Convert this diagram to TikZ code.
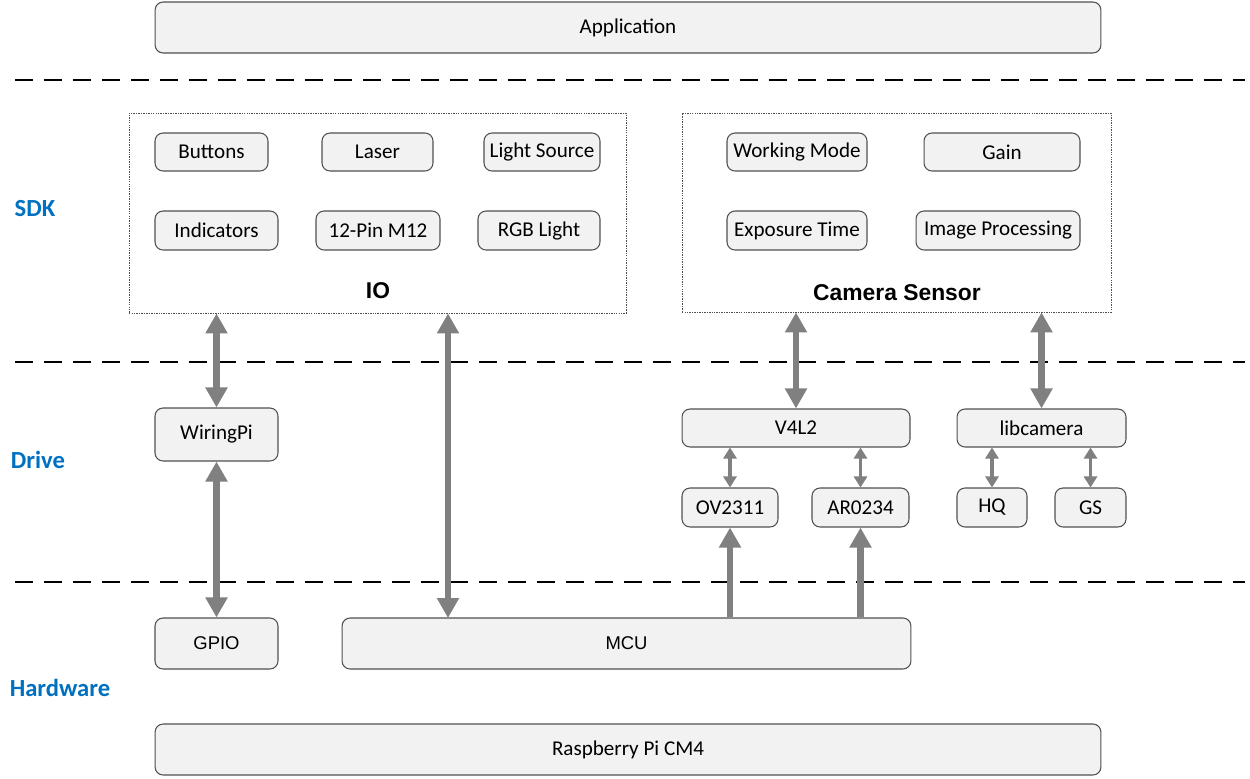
\documentclass[tikz,border=0pt]{standalone}
\usepackage{fontspec}
\setmainfont{Carlito}
\newfontfamily\arialfont{Liberation Sans}
\usepackage{xcolor}
\usetikzlibrary{arrows.meta}
\definecolor{SWFill}{HTML}{F2F2F2}
\definecolor{SWLine}{HTML}{505050}
\definecolor{SWArrow}{HTML}{808080}
\definecolor{SWBlue}{HTML}{0070C0}

\begin{document}
\begin{tikzpicture}[x=0.02cm,y=-0.02cm,
  box/.style={draw=SWLine,fill=SWFill,line width=.6pt,rounded corners=.16cm,inner sep=0pt,
    minimum height=.76cm,font=\fontsize{12}{14}\selectfont},
  frame/.style={draw=SWLine,line width=.5pt,dash pattern=on .8pt off .6pt,inner sep=0pt},
  layer/.style={font=\fontsize{14}{16}\selectfont\bfseries,text=SWBlue},
  title/.style={font=\arialfont\fontsize{13}{15}\selectfont\bfseries},
  sep/.style={line width=1.1pt,dash pattern=on .36cm off .22cm},
  wide/.style={draw=SWArrow,line width=3.6pt,{Triangle[length=.4cm,width=.42cm]}-{Triangle[length=.4cm,width=.42cm]}},
  up/.style={draw=SWArrow,line width=3.6pt,-{Triangle[length=.4cm,width=.42cm]}},
  thin/.style={draw=SWArrow,line width=1.8pt,{Triangle[length=.22cm,width=.26cm]}-{Triangle[length=.22cm,width=.26cm]}}]
\path[use as bounding box] (0,0) rectangle (1250,778);
\fill[white] (0,0) rectangle (1250,778);
\draw[sep] (15,80) -- (1245,80);
\draw[sep] (15,362) -- (1245,362);
\draw[sep] (15,582) -- (1245,582);
\node[layer] (sdk) at (35,209) {SDK};
\node[layer] (drive) at (38,460) {Drive};
\node[layer] (hw) at (60,688) {Hardware};
\node[box,minimum width=18.92cm,minimum height=1.02cm] (app) at (628,27.5) {Application};
\node[frame,minimum width=9.94cm,minimum height=4cm] (io) at (377.5,213) {};
\node[title] (iolabel) at (378,291) {IO};
\node[box,minimum width=2.26cm] (buttons) at (211.5,152) {Buttons};
\node[box,minimum width=2.22cm] (laser) at (377.5,152) {Laser};
\node[box,minimum width=2.32cm] (light) at (542,152) {Light Source};
\node[box,minimum width=2.46cm,minimum height=.78cm] (indic) at (216.5,230.5) {Indicators};
\node[box,minimum width=2.48cm,minimum height=.78cm] (pin) at (378,230.5) {12-Pin M12};
\node[box,minimum width=2.44cm,minimum height=.78cm] (rgb) at (539,230.5) {RGB Light};
\node[frame,minimum width=8.58cm,minimum height=3.98cm] (cam) at (896.5,212.5) {};
\node[title] (camlabel) at (897,293) {Camera Sensor};
\node[box,minimum width=2.8cm] (mode) at (797,152) {Working Mode};
\node[box,minimum width=3.12cm] (gain) at (1002,152) {Gain};
\node[box,minimum width=2.8cm,minimum height=.78cm] (expo) at (797,230.5) {Exposure Time};
\node[box,minimum width=3.28cm,minimum height=.78cm] (improc) at (998,230.5) {Image Processing};
\node[box,minimum width=2.46cm,minimum height=1.06cm] (wpi) at (216.5,434.5) {WiringPi};
\node[box,minimum width=4.56cm] (v4l2) at (796,428) {V4L2};
\node[box,minimum width=3.38cm] (libcam) at (1041.5,428) {libcamera};
\node[box,minimum width=1.92cm,minimum height=.78cm] (ov) at (730,507.5) {OV2311};
\node[box,minimum width=1.94cm,minimum height=.78cm] (ar) at (860.5,507.5) {AR0234};
\node[box,minimum width=1.4cm,minimum height=.78cm] (hq) at (992,507.5) {HQ};
\node[box,minimum width=1.42cm,minimum height=.78cm] (gs) at (1090.5,507.5) {GS};
\node[box,minimum width=2.46cm,minimum height=1.02cm,font=\arialfont\fontsize{10.5}{12}\selectfont] (gpio) at (216.5,643.5) {GPIO};
\node[box,minimum width=11.38cm,minimum height=1.02cm,font=\arialfont\fontsize{10.5}{12}\selectfont] (mcu) at (626.5,643.5) {MCU};
\node[box,minimum width=18.92cm,minimum height=1.02cm] (rpi) at (628,749.5) {Raspberry Pi CM4};
\coordinate (mcutop) at (448,618);
\draw[wide] (wpi.north |- io.south) -- (wpi.north);
\draw[wide] (wpi.south) -- (gpio.north);
\draw[wide] (mcutop |- io.south) -- (mcutop);
\draw[wide] (v4l2.north |- cam.south) -- (v4l2.north);
\draw[wide] (libcam.north |- cam.south) -- (libcam.north);
\draw[thin] (ov.north |- v4l2.south) -- (ov.north);
\draw[thin] (ar.north |- v4l2.south) -- (ar.north);
\draw[thin] (hq.north |- libcam.south) -- (hq.north);
\draw[thin] (gs.north |- libcam.south) -- (gs.north);
\draw[up] (ov.south |- mcu.north) -- (ov.south);
\draw[up] (ar.south |- mcu.north) -- (ar.south);
\end{tikzpicture}
\end{document}
